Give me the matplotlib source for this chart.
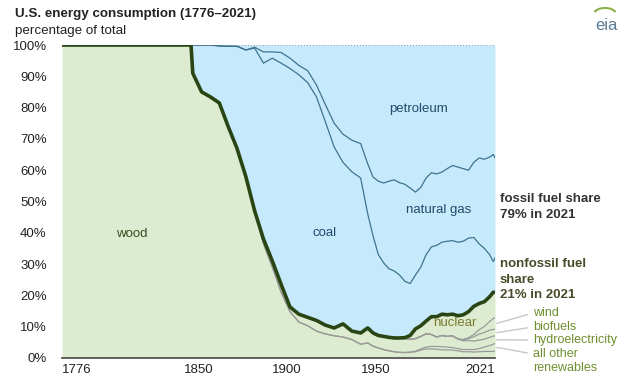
import numpy as np
import matplotlib.pyplot as plt
from matplotlib.transforms import ScaledTranslation, IdentityTransform
from matplotlib.patches import Arc

plt.rcParams['font.family'] = ['Liberation Sans', 'DejaVu Sans']

# shares of total U.S. energy consumption, percent
years = [1776, 1849, 1850, 1855, 1860, 1865, 1870, 1875, 1880, 1885,
         1890, 1895, 1900, 1905, 1910, 1915, 1920, 1925, 1930, 1935,
         1940, 1945, 1949, 1952, 1955, 1958, 1961, 1964, 1967, 1970,
         1973, 1976, 1979, 1982, 1985, 1988, 1991, 1994, 1997, 2000,
         2003, 2006, 2009, 2012, 2015, 2018, 2020, 2021]

wood = [100, 100, 91, 85, 83.4, 81.5, 74, 67, 58, 47,
        36.5, 29, 21, 14.8, 11.5, 10.3, 8.6, 7.7, 7.1, 6.7,
        5.9, 4.4, 4.8, 3.8, 3.2, 2.7, 2.3, 2.0, 1.8, 1.7,
        1.8, 2.0, 2.5, 2.9, 2.9, 2.8, 2.6, 2.6, 2.5, 2.3,
        2.0, 2.0, 1.9, 2.0, 2.1, 2.1, 2.1, 2.2]
other = [0] * 26 + [0, 0, 0, 0.1,
                    0.1, 0.2, 0.4, 0.6, 0.8, 0.9, 1.0, 0.9, 0.8, 0.7,
                    0.7, 0.7, 0.8, 1.0, 1.4, 1.9, 2.3, 2.4]
hydro = [0] * 10 + [1.5, 2.0, 2.5, 1.5, 2.5, 2.7, 3.4, 2.8, 2.5, 4.2,
                    2.7, 3.6, 4.8, 4.2, 4.0, 4.2, 4.2, 4.3, 4.5, 4.4,
                    4.1, 4.0, 4.0, 4.2, 3.8, 3.0, 3.6, 3.4, 3.8, 3.0,
                    2.8, 2.9, 2.7, 2.7, 2.5, 2.6, 2.6, 2.4]
biofuels = [0] * 39 + [0.1, 0.3, 0.6, 1.4, 1.9, 2.2, 2.3, 2.1, 2.2]
wind = [0] * 39 + [0, 0.1, 0.3, 0.7, 1.4, 1.9, 2.8, 3.5, 3.7]
nuclear = [0] * 26 + [0.1, 0.1, 0.1, 0.3,
                      1.2, 3.1, 3.4, 4.1, 5.7, 6.5, 6.8, 6.9, 6.9, 7.4,
                      7.9, 8.3, 9.0, 8.4, 7.9, 7.9, 8.4, 8.1]
coal = [0, 0, 9, 15, 16.6, 18.2, 25.6, 32.6, 40.4, 52,
        56.2, 64.8, 70.7, 76.2, 76.5, 75, 71.4, 65, 57.8, 51.6,
        50.9, 49.5, 36.4, 31, 25.8, 23.5, 21.9, 21.4, 20.1, 18.0,
        16.6, 17.2, 18.7, 21.2, 22.3, 22.8, 23.0, 23.5, 23.5, 23.5,
        23.5, 23.5, 22.0, 19.1, 17.0, 13.4, 9.8, 11.0]
gas = [0, 0, 0, 0, 0, 0, 0, 0, 0, 0.3,
       3.6, 2.0, 3.4, 3.3, 3.0, 3.8, 3.8, 5.5, 7.6, 9.0,
       10.1, 11.0, 16.0, 18.8, 23.5, 25.5, 28.0, 29.1, 29.5, 31.0,
       30.5, 26.5, 25.5, 24.5, 23.7, 22.8, 22.4, 23.2, 24.0, 24.0,
       23.2, 21.7, 24.0, 27.4, 28.5, 31.2, 34.2, 32.0]
# petroleum is the rest up to 100%

xticks = [1776, 1850, 1900, 1950, 2021]

green = '#ddecd0'
blue = '#c6eafb'
dark_green = '#2a4514'
line_blue = '#3f7391'
gray = '#9a9a9a'

yrs = np.array(years)
stack = np.cumsum([wood, other, hydro, biofuels, wind, nuclear, coal, gas], axis=0)
wood_top, other_top, hydro_top, bio_top, wind_top, nonfossil, coal_top, gas_top = stack

fig = plt.figure(figsize=(6.35, 3.79), dpi=100)
ax = fig.add_axes([62/635, 1-358/379, (495-62)/635, (358-45)/379])

ax.fill_between(yrs, 0, nonfossil, color=green, lw=0)
ax.fill_between(yrs, nonfossil, 100, color=blue, lw=0)
ax.axhline(100, color='#8fa6b5', ls=':', lw=0.8)

for top in [wood_top, other_top, hydro_top, bio_top, wind_top]:
    ax.plot(yrs, top, color=gray, lw=0.9)
ax.plot(yrs, coal_top, color=line_blue, lw=0.9)
ax.plot(yrs, gas_top, color=line_blue, lw=0.9)
ax.plot(yrs, nonfossil, color=dark_green, lw=2.6, solid_joinstyle='round')

ax.set_xlim(1776, 2021)
ax.set_ylim(0, 100)
ax.set_yticks(range(0, 101, 10))
ax.set_yticklabels([f'{v}%' for v in range(0, 101, 10)])
ax.set_xticks(xticks)
ax.set_xticklabels([str(y) for y in xticks])
ax.tick_params(axis='y', length=0, pad=11, labelsize=9.5, colors='#222222')
ax.tick_params(axis='x', length=0, pad=4, labelsize=9.5, colors='#222222')
labels = ax.get_xticklabels()
labels[0].set_ha('left')
labels[-1].set_ha('right')
for lab in labels[1:-1]:
    lab.set_transform(lab.get_transform() + ScaledTranslation(6/100, 0, fig.dpi_scale_trans))
for s in ['left', 'right', 'top']:
    ax.spines[s].set_visible(False)
ax.spines['bottom'].set_color('#555555')
ax.spines['bottom'].set_linewidth(1.3)

# area labels
blue_txt = '#23496b'
ax.text(1977.5, 79.6, 'petroleum', color=blue_txt, fontsize=9.5, ha='center', va='center')
ax.text(1989, 47.3, 'natural gas', color=blue_txt, fontsize=9.5, ha='center', va='center')
ax.text(1924.3, 39.9, 'coal', color=blue_txt, fontsize=9.5, ha='center', va='center')
ax.text(1815.6, 39.6, 'wood', color='#3b4a1f', fontsize=9.5, ha='center', va='center')
ax.text(1998, 11.2, 'nuclear', color='#7b7a2e', fontsize=9.5, ha='center', va='center')

# right side labels
fossil_share = 100 - nonfossil[-1]
fig.text(500/635, 180/379, 'fossil fuel share', fontsize=9.5, weight='bold', color='#333333', va='center')
fig.text(500/635, 164/379, f'{fossil_share:.0f}% in 2021', fontsize=9.5, weight='bold', color='#333333', va='center')
fig.text(500/635, 115/379, 'nonfossil fuel', fontsize=9.5, weight='bold', color='#4a4a2a', va='center')
fig.text(500/635, 99/379, 'share', fontsize=9.5, weight='bold', color='#4a4a2a', va='center')
fig.text(500/635, 84/379, f'{nonfossil[-1]:.0f}% in 2021', fontsize=9.5, weight='bold', color='#4a4a2a', va='center')

olive = '#6f8f2f'
bands = [('wind', (bio_top[-1] + wind_top[-1]) / 2, 66),
         ('biofuels', (hydro_top[-1] + bio_top[-1]) / 2, 52),
         ('hydroelectricity', (other_top[-1] + hydro_top[-1]) / 2, 39),
         ('all other', (wood_top[-1] + other_top[-1]) / 2, 25)]
for name, mid, ypix in bands:
    ax.annotate(name, xy=(2022, mid), xycoords='data', xytext=(533, ypix),
                textcoords='figure pixels', fontsize=9, color=olive, ha='left', va='center',
                annotation_clip=False,
                arrowprops=dict(arrowstyle='-', color='#c8c8c8', lw=1,
                                shrinkA=2, shrinkB=0, relpos=(0, 0.5)))
fig.text(533/635, 11/379, 'renewables', fontsize=9, color=olive, va='center')

# header
fig.text(15/635, 1-14/379, 'U.S. energy consumption (1776\u20132021)', fontsize=9.6,
         weight='bold', color='#222222', va='center')
fig.text(15/635, 1-31/379, 'percentage of total', fontsize=9.6, color='#222222', va='center')

# eia mark
fig.text(606/635, 1-25/379, 'eia', fontsize=12, color='#5b7b94', ha='center', va='center')
fig.add_artist(Arc((605, 379-14), 22, 12, theta1=10, theta2=170, color='#8ab04a', lw=1.5,
                   transform=IdentityTransform()))

fig.savefig('out.png', dpi=100)
